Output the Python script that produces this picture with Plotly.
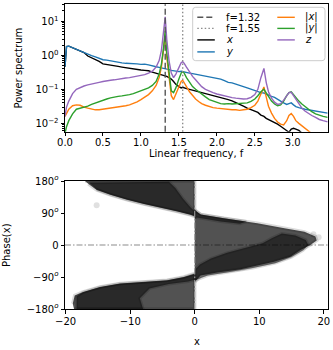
import plotly.graph_objects as go

W, H = 333, 350
FONT = "DejaVu Sans"

# ---- top panel: power spectra ----
freq = [
    0.0, 0.02, 0.05, 0.1, 0.15, 0.2, 0.25, 0.3, 0.35, 0.4,
    0.45, 0.5, 0.55, 0.6, 0.65, 0.7, 0.75, 0.8, 0.85, 0.9,
    0.95, 1.0, 1.05, 1.1, 1.15, 1.2, 1.24, 1.27, 1.3, 1.32,
    1.34, 1.37, 1.4, 1.43, 1.46, 1.5, 1.53, 1.55, 1.57, 1.6,
    1.64, 1.68, 1.72, 1.76, 1.8, 1.85, 1.9, 1.95, 2.0, 2.05,
    2.1, 2.15, 2.2, 2.25, 2.3, 2.35, 2.4, 2.45, 2.5, 2.54,
    2.58, 2.62, 2.65, 2.68, 2.72, 2.76, 2.8, 2.84, 2.88, 2.92,
    2.95, 2.98, 3.01, 3.04, 3.08, 3.12, 3.16, 3.2, 3.25, 3.3,
    3.35, 3.4, 3.46,
]
spec_x = [
    0.46, 1.8, 1.85, 1.65, 1.5, 1.35, 1.2, 0.95, 0.85, 0.75,
    0.66, 0.56, 0.53, 0.5, 0.48, 0.47, 0.45, 0.43, 0.42, 0.41,
    0.39, 0.37, 0.36, 0.35, 0.32, 0.3, 0.28, 0.27, 0.26, 0.25,
    0.24, 0.22, 0.2, 0.17, 0.14, 0.12, 0.11, 0.115, 0.11, 0.105,
    0.1, 0.095, 0.09, 0.085, 0.08, 0.075, 0.07, 0.065, 0.06, 0.058,
    0.055, 0.05, 0.046, 0.04, 0.036, 0.032, 0.028, 0.025, 0.023, 0.021,
    0.0175, 0.016, 0.014, 0.013, 0.012, 0.011, 0.0095, 0.0082, 0.007, 0.0058,
    0.0055, 0.0068, 0.0072, 0.0068, 0.0062, 0.0052, 0.0045, 0.004, 0.0035, 0.003,
    0.0028, 0.0025, 0.0022,
]
spec_y = [
    0.46, 1.8, 1.85, 1.65, 1.5, 1.35, 1.2, 1.08, 0.98, 0.9,
    0.8, 0.74, 0.72, 0.68, 0.66, 0.62, 0.6, 0.58, 0.58, 0.56,
    0.56, 0.54, 0.55, 0.52, 0.5, 0.46, 0.44, 0.43, 0.42, 0.41,
    0.4, 0.38, 0.36, 0.35, 0.34, 0.33, 0.34, 0.33, 0.32, 0.31,
    0.3, 0.29, 0.28, 0.26, 0.25, 0.24, 0.23, 0.22, 0.21, 0.2,
    0.18, 0.16, 0.155, 0.14, 0.13, 0.12, 0.11, 0.1, 0.095, 0.088,
    0.08, 0.078, 0.072, 0.068, 0.062, 0.058, 0.05, 0.045, 0.04, 0.036,
    0.038, 0.04, 0.035, 0.031, 0.029, 0.027, 0.026, 0.025, 0.024, 0.023,
    0.022, 0.021, 0.02,
]
spec_abs_x = [
    0.016, 0.02, 0.026, 0.033, 0.035, 0.034, 0.03, 0.028, 0.026, 0.025,
    0.025, 0.026, 0.027, 0.027, 0.029, 0.03, 0.031, 0.033, 0.035, 0.038,
    0.043, 0.05, 0.058, 0.07, 0.09, 0.13, 0.22, 0.45, 1.6, 4.5,
    0.9, 0.2, 0.065, 0.05, 0.07, 0.12, 0.17, 0.185, 0.16, 0.12,
    0.085, 0.065, 0.052, 0.044, 0.038, 0.034, 0.031, 0.029, 0.028, 0.027,
    0.026, 0.025, 0.025, 0.025, 0.024, 0.025, 0.026, 0.029, 0.034, 0.045,
    0.075, 0.117, 0.06, 0.032, 0.02, 0.014, 0.011, 0.0095, 0.009, 0.012,
    0.017, 0.0195, 0.016, 0.012, 0.01, 0.0085, 0.0072, 0.006, 0.005, 0.0045,
    0.004, 0.0035, 0.003,
]
spec_abs_y = [
    0.005, 0.008, 0.012, 0.019, 0.026, 0.028, 0.029, 0.032, 0.036, 0.04,
    0.044, 0.048, 0.052, 0.056, 0.06, 0.062, 0.064, 0.066, 0.07, 0.075,
    0.082, 0.09, 0.1, 0.11, 0.13, 0.17, 0.28, 0.55, 1.8, 5.2,
    1.2, 0.3, 0.09, 0.08, 0.11, 0.2, 0.3, 0.33, 0.3, 0.22,
    0.16, 0.12, 0.1, 0.085, 0.07, 0.06, 0.05, 0.045, 0.04, 0.038,
    0.037, 0.038, 0.037, 0.038, 0.038, 0.039, 0.04, 0.044, 0.052, 0.065,
    0.085, 0.1, 0.08, 0.06, 0.045, 0.037, 0.033, 0.035, 0.045, 0.065,
    0.08, 0.085, 0.07, 0.055, 0.045, 0.037, 0.031, 0.026, 0.022, 0.019,
    0.017, 0.016, 0.015,
]
spec_z = [
    0.016, 0.03, 0.045, 0.075, 0.1, 0.115, 0.125, 0.135, 0.145, 0.155,
    0.16, 0.17, 0.18, 0.185, 0.19, 0.2, 0.21, 0.215, 0.22, 0.23,
    0.24, 0.25, 0.27, 0.3, 0.34, 0.45, 0.7, 1.4, 4.5, 13.4,
    3.0, 0.7, 0.3, 0.22, 0.28, 0.42, 0.6, 0.65, 0.58, 0.45,
    0.32, 0.24, 0.19, 0.15, 0.12, 0.1, 0.088, 0.08, 0.073, 0.068,
    0.064, 0.06, 0.057, 0.055, 0.053, 0.052, 0.053, 0.058, 0.07, 0.1,
    0.22, 0.41, 0.16, 0.085, 0.055, 0.042, 0.036, 0.038, 0.048, 0.068,
    0.08, 0.082, 0.065, 0.048, 0.036, 0.028, 0.023, 0.02, 0.017, 0.015,
    0.013, 0.012, 0.011,
]
spectra = [
    ("x", "<i>x</i>", spec_x, "#000000"),
    ("y", "<i>y</i>", spec_y, "#1f77b4"),
    ("|x|", "|<i>x</i>|", spec_abs_x, "#ff7f0e"),
    ("|y|", "|<i>y</i>|", spec_abs_y, "#2ca02c"),
    ("z", "<i>z</i>", spec_z, "#9467bd"),
]
f_peak1, f_peak2 = 1.32, 1.55

# ---- bottom panel: phase(x) cloud, outlines ----
# body = the grey extent of each lobe, core = where the points pile up dark
upper_left_x = [-17.0, 0.0, 0.0, -0.7, -2.7, -5.3, -7.9, -10.5, -13.1, -15.2, -16.5]
upper_left_p = [180, 180, 80, 85, 94, 104, 115, 127, 141, 155, 172]
lower_left_x = [-18.7, 0.0, 0.0, -1.7, -4.3, -7.9, -11.6, -14.7, -17.3, -18.6, -18.9]
lower_left_p = [-180, -180, -80, -90, -99, -104, -108, -118, -132, -142, -165]
right_x = [0.0, 0.9, 4.5, 9.7, 13.9, 17.0, 18.7, 18.9, 17.9, 16.4, 14.8, 12.3, 9.7, 7.1, 3.5, 0.9, 0.0]
right_p = [99, 86, 75, 61, 47, 37, 24, 13, 0, -14, -33, -47, -58, -68, -77, -86, -104]

upper_left_core_x = [-16.3, -4.0, -3.0, -1.8, -0.6, 0.0, 0.0, -0.7, -2.7, -5.3, -7.9, -10.5, -13.1, -15.2]
upper_left_core_p = [175, 178, 160, 130, 105, 95, 82, 86, 95, 105, 116, 128, 142, 156]
lower_left_core_x = [0.0, -1.7, -4.3, -7.9, -11.6, -14.7, -17.3, -18.3, -18.3, -8.0, -8.5, -7.0, -4.0, -1.0, 0.0]
lower_left_core_p = [-82, -91, -100, -105, -109, -119, -133, -145, -180, -180, -150, -122, -110, -103, -98]
right_core_x = [0.0, 2.0, 5.0, 9.0, 12.5, 15.0, 16.8, 17.6, 17.2, 15.6, 13.5, 12.0, 10.5, 8.0, 5.0, 2.5, 0.8, 0.0]
right_core_p = [-100, -86, -77, -65, -51, -34, -15, 0, 14, 27, 32, 20, 5, -8, -22, -38, -55, -70]
neck_core_x = [0.0, 1.0, 4.5, 8.0, 7.0, 4.0, 1.5, 0.0]
neck_core_p = [97, 86, 75, 66, 60, 66, 74, 78]

stray_x = [-15.2, 19.2, 18.4]
stray_p = [112, 22, 30]

bodies = [(upper_left_x, upper_left_p), (lower_left_x, lower_left_p), (right_x, right_p)]
cores = [
    (upper_left_core_x, upper_left_core_p),
    (lower_left_core_x, lower_left_core_p),
    (right_core_x, right_core_p),
    (neck_core_x, neck_core_p),
]


def px(x):
    return x / W


def py(y):
    return 1 - y / H


fig = go.Figure()

for name, _, values, color in spectra:
    fig.add_trace(
        go.Scatter(
            x=freq, y=values, mode="lines", name=name,
            line={"color": color, "width": 1.4},
            xaxis="x", yaxis="y", showlegend=False,
        )
    )

for bx, bp in bodies:
    fig.add_trace(
        go.Scatter(
            x=bx, y=bp, mode="lines", fill="toself",
            fillcolor="rgba(0,0,0,0.68)",
            line={"color": "rgba(0,0,0,0.14)", "width": 3.5},
            xaxis="x2", yaxis="y2", showlegend=False, hoverinfo="skip",
        )
    )
for cx, cp in cores:
    fig.add_trace(
        go.Scatter(
            x=cx, y=cp, mode="lines", fill="toself",
            fillcolor="rgba(0,0,0,0.5)",
            line={"color": "rgba(0,0,0,0.15)", "width": 3},
            xaxis="x2", yaxis="y2", showlegend=False, hoverinfo="skip",
        )
    )
fig.add_trace(
    go.Scatter(
        x=stray_x, y=stray_p, mode="markers",
        marker={"color": "rgba(0,0,0,0.12)", "size": 6, "line": {"width": 0}},
        xaxis="x2", yaxis="y2", showlegend=False,
    )
)

shapes = [
    dict(type="line", xref="x", yref="y domain", x0=f_peak1, x1=f_peak1, y0=0, y1=1,
         line={"color": "#555555", "width": 1.4, "dash": "6px,3px"}, layer="above"),
    dict(type="line", xref="x", yref="y domain", x0=f_peak2, x1=f_peak2, y0=0, y1=1,
         line={"color": "#8c8c8c", "width": 1.4, "dash": "1.5px,2.2px"}, layer="above"),
    dict(type="line", xref="x2 domain", yref="y2", x0=0, x1=1, y0=0, y1=0,
         line={"color": "#8c8c8c", "width": 1.1, "dash": "6px,2px,1.5px,2px"}, layer="below"),
    dict(type="line", xref="x2", yref="y2 domain", x0=0, x1=0, y0=0, y1=1,
         line={"color": "#9a9a9a", "width": 1.1, "dash": "6px,2px,1.5px,2px"}, layer="above"),
]

# legend box (rounded) and entries, laid out in two columns like the original
lx0, lx1, ly0, ly1, r = 192.7, 325.0, 7.3, 60.7, 3.0
path = (
    f"M {px(lx0 + r)},{py(ly0)} L {px(lx1 - r)},{py(ly0)} "
    f"Q {px(lx1)},{py(ly0)} {px(lx1)},{py(ly0 + r)} L {px(lx1)},{py(ly1 - r)} "
    f"Q {px(lx1)},{py(ly1)} {px(lx1 - r)},{py(ly1)} L {px(lx0 + r)},{py(ly1)} "
    f"Q {px(lx0)},{py(ly1)} {px(lx0)},{py(ly1 - r)} L {px(lx0)},{py(ly0 + r)} "
    f"Q {px(lx0)},{py(ly0)} {px(lx0 + r)},{py(ly0)} Z"
)
shapes.append(dict(type="path", xref="paper", yref="paper", path=path,
                   fillcolor="rgba(255,255,255,0.85)", line={"color": "#cccccc", "width": 1},
                   layer="above"))

legend_items = [
    (f"f={f_peak1}", "#555555", "6px,3px"),
    (f"f={f_peak2}", "#8c8c8c", "1.5px,2.2px"),
] + [(label, color, "solid") for _, label, _, color in spectra]
row_y = [17.3, 28.4, 39.9, 51.9]
annotations = []
for i, (label, color, dash) in enumerate(legend_items):
    col, row = divmod(i, 4)
    x_line = [197.3, 277.3][col]
    x_text = [224.0, 303.0][col]
    y = row_y[row]
    shapes.append(dict(type="line", xref="paper", yref="paper",
                       x0=px(x_line), x1=px(x_line + 17.5), y0=py(y), y1=py(y),
                       line={"color": color, "width": 1.4, "dash": dash}, layer="above"))
    annotations.append(dict(text=label, xref="paper", yref="paper", x=px(x_text), y=py(y),
                            xanchor="left", yanchor="middle", showarrow=False,
                            font={"size": 10, "color": "black"}))

titles = [
    ("Linear frequency, f", 196.5, 154.0, 0),
    ("Power spectrum", 18.0, 68.5, -90),
    ("x", 196.5, 341.5, 0),
    ("Phase(x)", 7.0, 245.0, -90),
]
for text, x, y, angle in titles:
    annotations.append(dict(text=text, xref="paper", yref="paper", x=px(x), y=py(y),
                            xanchor="center", yanchor="middle", showarrow=False,
                            textangle=angle, font={"size": 10, "color": "black"}))

axis_common = dict(
    showline=True, linecolor="black", linewidth=1, mirror=True,
    ticks="outside", ticklen=3.5, tickwidth=0.8, tickcolor="black",
    showgrid=False, zeroline=False, automargin=False,
    tickfont={"size": 10, "color": "black"},
)
minor_vals = [m * 10.0 ** e for e in range(-3, 2) for m in range(2, 10)]
deg = "<sup><i>o</i></sup>"

fig.update_layout(
    template="none",
    width=W, height=H,
    margin=dict(l=0, r=0, t=0, b=0, pad=0),
    paper_bgcolor="white", plot_bgcolor="white",
    font={"family": FONT, "size": 10, "color": "black"},
    showlegend=False,
    xaxis=dict(
        domain=[px(65.0), px(327.7)], anchor="y", range=[0, 3.46],
        tickvals=[0, 0.5, 1, 1.5, 2, 2.5, 3],
        ticktext=["0.0", "0.5", "1.0", "1.5", "2.0", "2.5", "3.0"],
        ticklabelstandoff=-2,
        **axis_common,
    ),
    yaxis=dict(
        domain=[py(131.7), py(4.2)], anchor="x", type="log", range=[-2.245, 1.5],
        tickvals=[0.01, 0.1, 1, 10],
        ticktext=["10<sup>−2</sup>", "10<sup>−1</sup>", "10<sup>0</sup>", "10<sup>1</sup>"],
        minor=dict(tickvals=minor_vals, ticks="outside", ticklen=2, tickcolor="black", tickwidth=0.6),
        **axis_common,
    ),
    xaxis2=dict(
        domain=[px(65.0), px(327.7)], anchor="y2", range=[-20.1, 20.6],
        tickvals=[-20, -10, 0, 10, 20],
        ticktext=["−20", "−10", "0", "10", "20"],
        ticklabelstandoff=-1,
        **axis_common,
    ),
    yaxis2=dict(
        domain=[py(309.0), py(181.0)], anchor="x2", range=[-180, 180],
        tickvals=[-180, -90, 0, 90, 180],
        ticktext=["−180" + deg, "−90" + deg, "0", "90" + deg, "180" + deg],
        **axis_common,
    ),
    shapes=shapes,
    annotations=annotations,
)

# the page body has a default 8px margin; drop it so the figure fills the window
fig.write_html(
    "out.html",
    config={"displayModeBar": False},
    post_script="document.body.style.margin = '0';",
)
